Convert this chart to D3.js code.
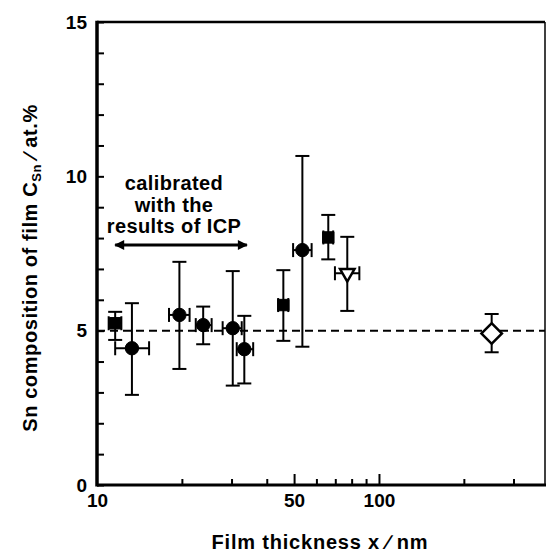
<!DOCTYPE html>
<html>
<head>
<meta charset="utf-8">
<script src="https://cdn.jsdelivr.net/npm/d3@7"></script>
<style>
  body { margin: 0; background: #fff; }
  svg { font-family: "Liberation Sans", Arial, sans-serif; font-weight: bold; }
  .axis path { display: none; }
  .axis line { stroke: #000; stroke-width: 2; }
  .axis text { fill: #000; font-size: 19px; font-weight: bold; }
</style>
</head>
<body>
<svg width="547" height="555"></svg>
<script>
"use strict";

// film thickness (nm) with its spread, and Sn composition (at.%) with its spread
const thickness = [11.6, 13.3, 19.6, 23.8, 30.3, 33.3, 45.8, 53.5, 66.1, 77.2, 251];
const thickLo   = [11.0, 11.6, 18.0, 22.4, 27.9, 31.3, 43.9, 49.6, 63.5, 69.8, null];
const thickHi   = [12.2, 15.3, 21.3, 25.5, 32.6, 35.8, 47.7, 57.7, 68.8, 85.2, null];
const snComp    = [5.24, 4.43, 5.51, 5.18, 5.08, 4.40, 5.83, 7.61, 8.02, 6.86, 4.91];
const snLo      = [4.70, 2.92, 3.76, 4.56, 3.22, 3.29, 4.67, 4.48, 7.31, 5.64, 4.30];
const snHi      = [5.61, 5.89, 7.23, 5.78, 6.93, 5.48, 6.96, 10.66, 8.75, 8.04, 5.54];
const markers   = ["square", "circle", "circle", "circle", "circle", "circle",
                   "square", "circle", "square", "triangle", "diamond"];

const xMinorTicks = [20, 30, 40, 60, 70, 80, 90, 200, 300];
const xMajorTicks = [50, 100];
const xLabels = [10, 50, 100];
const yMinorTicks = d3.range(0, 16);
const yLabels = [0, 5, 10, 15];
const refLevel = 5;           // dashed line
const icpRange = [11.6, 34];  // arrow "calibrated with the results of ICP"

const svg = d3.select("svg");

const x = d3.scaleLog().domain([10, 388]).range([97, 545]);
const y = d3.scaleLinear().domain([0, 15]).range([485, 22]);

const points = thickness.map((t, i) => ({
    t, tLo: thickLo[i], tHi: thickHi[i],
    c: snComp[i], cLo: snLo[i], cHi: snHi[i], m: markers[i]
}));

// axes (ticks point inward)
svg.append("g").attr("class", "axis")
    .attr("transform", `translate(0,${y(0)})`)
    .call(d3.axisBottom(x).tickValues(xMinorTicks).tickSize(-6).tickFormat(""));
svg.append("g").attr("class", "axis")
    .attr("transform", `translate(0,${y(0)})`)
    .call(d3.axisBottom(x).tickValues(xMajorTicks).tickSize(-11).tickFormat(""));
svg.append("g").attr("class", "axis")
    .attr("transform", `translate(0,${y(0)})`)
    .call(d3.axisBottom(x).tickValues(xLabels).tickSize(0).tickPadding(9).tickFormat(d3.format("d")));

svg.append("g").attr("class", "axis")
    .attr("transform", `translate(${x(10)},0)`)
    .call(d3.axisLeft(y).tickValues(yMinorTicks).tickSize(-7).tickFormat(""));
svg.append("g").attr("class", "axis")
    .attr("transform", `translate(${x(10)},0)`)
    .call(d3.axisLeft(y).tickValues(yLabels).tickSize(0).tickPadding(10).tickFormat(d3.format("d")));

// frame
const [x0, x1] = x.range(), [y0, y1] = y.range();
svg.append("line").attr("x1", x0).attr("x2", x1).attr("y1", y1).attr("y2", y1)
    .attr("stroke", "#000").attr("stroke-width", 2.5);
svg.append("line").attr("x1", x1).attr("x2", x1).attr("y1", y1).attr("y2", y0)
    .attr("stroke", "#000").attr("stroke-width", 1.5);
svg.append("line").attr("x1", x0).attr("x2", x1 + 1).attr("y1", y0).attr("y2", y0)
    .attr("stroke", "#000").attr("stroke-width", 3);
svg.append("line").attr("x1", x0).attr("x2", x0).attr("y1", y1 - 1.2).attr("y2", y0 + 1.5)
    .attr("stroke", "#000").attr("stroke-width", 3.5);

// dashed reference line
svg.append("line")
    .attr("x1", x0).attr("x2", x1)
    .attr("y1", y(refLevel)).attr("y2", y(refLevel))
    .attr("stroke", "#000").attr("stroke-width", 2)
    .attr("stroke-dasharray", "8,5");

// error bars
const cap = 7;
const eb = svg.append("g").attr("stroke", "#000").attr("stroke-width", 2).attr("fill", "none");
points.forEach(d => {
    const px = x(d.t), py = y(d.c);
    eb.append("line").attr("x1", px).attr("x2", px).attr("y1", y(d.cLo)).attr("y2", y(d.cHi));
    eb.append("line").attr("x1", px - cap).attr("x2", px + cap).attr("y1", y(d.cLo)).attr("y2", y(d.cLo));
    eb.append("line").attr("x1", px - cap).attr("x2", px + cap).attr("y1", y(d.cHi)).attr("y2", y(d.cHi));
    if (d.tLo != null) {
        eb.append("line").attr("x1", x(d.tLo)).attr("x2", x(d.tHi)).attr("y1", py).attr("y2", py);
        eb.append("line").attr("x1", x(d.tLo)).attr("x2", x(d.tLo)).attr("y1", py - cap).attr("y2", py + cap);
        eb.append("line").attr("x1", x(d.tHi)).attr("x2", x(d.tHi)).attr("y1", py - cap).attr("y2", py + cap);
    }
});

// markers
const symbolFor = {
    circle:   { type: d3.symbolCircle,   size: 140, rot: 0,   fill: "#000" },
    square:   { type: d3.symbolSquare,   size: 130, rot: 0,   fill: "#000" },
    triangle: { type: d3.symbolTriangle, size: 90,  rot: 180, fill: "#fff" },
    diamond:  { type: d3.symbolSquare,   size: 210, rot: 45,  fill: "#fff" }
};
svg.append("g").selectAll("path")
    .data(points)
    .join("path")
    .attr("d", d => d3.symbol().type(symbolFor[d.m].type).size(symbolFor[d.m].size)())
    .attr("transform", d => `translate(${x(d.t)},${y(d.c)}) rotate(${symbolFor[d.m].rot})`)
    .attr("fill", d => symbolFor[d.m].fill)
    .attr("stroke", "#000")
    .attr("stroke-width", d => symbolFor[d.m].fill === "#fff" ? 2.5 : 1);

// annotation
const note = svg.append("text")
    .attr("text-anchor", "middle")
    .attr("font-size", 20)
    .attr("letter-spacing", 0.4);
["calibrated", "with the", "results of ICP"].forEach((s, i) => {
    note.append("tspan").attr("x", 174).attr("y", 190 + i * 21.5).text(s);
});

svg.append("defs").append("marker")
    .attr("id", "head")
    .attr("viewBox", "0 0 10 10")
    .attr("refX", 9).attr("refY", 5)
    .attr("markerWidth", 15).attr("markerHeight", 10)
    .attr("markerUnits", "userSpaceOnUse")
    .attr("orient", "auto-start-reverse")
    .append("path").attr("d", "M0,0 L10,5 L0,10 Z").attr("fill", "#000");

svg.append("line")
    .attr("x1", x(icpRange[0])).attr("x2", x(icpRange[1]))
    .attr("y1", 245).attr("y2", 245)
    .attr("stroke", "#000").attr("stroke-width", 3)
    .attr("marker-start", "url(#head)")
    .attr("marker-end", "url(#head)");

// axis titles
svg.append("text")
    .attr("text-anchor", "middle")
    .attr("font-size", 20)
    .attr("letter-spacing", 0.8)
    .attr("x", 320).attr("y", 549)
    .text("Film thickness x \u2215 nm");

const yt = svg.append("text")
    .attr("text-anchor", "middle")
    .attr("font-size", 20)
    .attr("letter-spacing", 0.6)
    .attr("transform", "translate(37,268) rotate(-90)");
yt.append("tspan").text("Sn composition of film C");
yt.append("tspan").attr("font-size", 13).attr("dy", 4).text("Sn");
yt.append("tspan").attr("dy", -4).text(" \u2215 at.%");
</script>
</body>
</html>
